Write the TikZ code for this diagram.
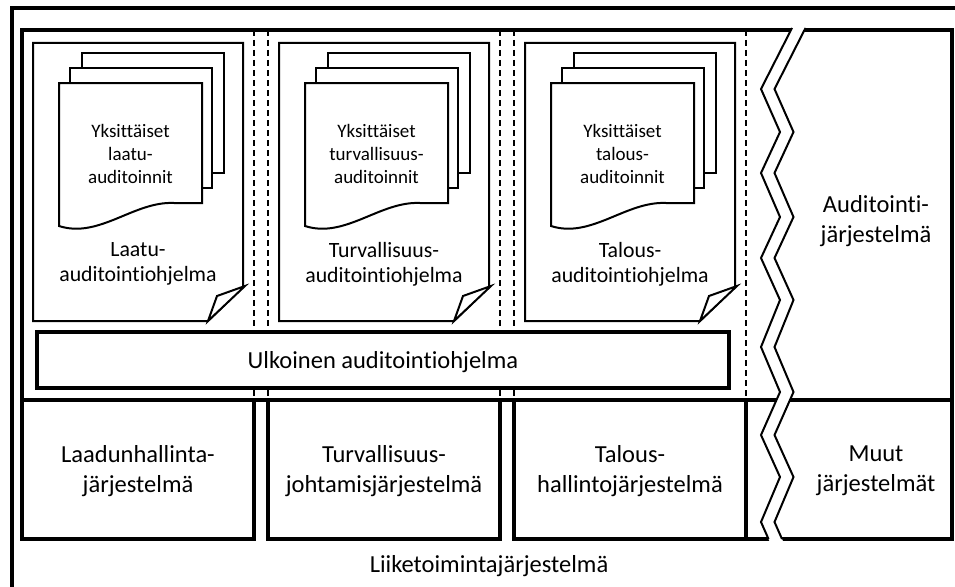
\documentclass[tikz,border=0pt]{standalone}
\usepackage{fontspec}
\setmainfont{Carlito}[Ligatures={NoCommon,NoContextual,NoRare}]

% one column of the auditing system: programme sheet with a curled corner
% and a stack of individual audit sheets in front of it
\newcommand\auditcolumn[4]{%
  \begin{scope}[xshift=#1]
    \draw[paper] (33,43) -- (243,43) -- (243,287) -- (208,321) -- (33,321) -- cycle;
    \draw[paper] (208,321) -- (217,296) -- (245,286) -- cycle;
    \draw[paper] (82,53) rectangle (224,173);
    \draw[paper] (70,68) rectangle (212,188);
    \draw[paper] (59,83) -- (202,83) -- (202,203) -- (174,203)
      .. controls (134,201) and (99,239) .. (59,226) -- cycle;
    \node[small] (#2-audits) at (130.5,154) {#3};
    \node[mid] (#2-programme) at (138,264) {#4};
  \end{scope}}

\begin{document}
\begin{tikzpicture}[x=1pt,y=-1pt,
  heavy/.style={line width=3.4pt},
  paper/.style={line width=2pt, fill=white, line join=miter},
  divider/.style={line width=1.6pt, dash pattern=on 6pt off 4pt},
  zig/.style={line width=2pt, line join=miter},
  small/.style={align=center, inner sep=0pt, font=\fontsize{19}{23}\selectfont},
  mid/.style={align=center, inner sep=0pt, font=\fontsize{21.8}{25}\selectfont},
  big/.style={align=center, inner sep=0pt, font=\fontsize{24.5}{30}\selectfont},
]
\useasboundingbox (0,0) rectangle (955,586);
\clip (0,0) rectangle (955,586);
\fill[white] (0,0) rectangle (955,586);

% business system frame (runs on past the right and bottom edges)
\draw[heavy] (12,600) -- (12,8) -- (970,8);

% auditing system
\draw[heavy] (22,30) rectangle (952,400);

% management systems
\draw[heavy] (22,400) rectangle (254,539);
\draw[heavy] (268,400) rectangle (500,539);
\draw[heavy] (514,400) rectangle (746,539);
\draw[heavy] (746,400) rectangle (952,539);

% column dividers
\foreach \x in {254,268,500,514,746}
  \draw[divider] (\x,30) -- (\x,400);

% audit programmes
\auditcolumn{0pt}{quality}{Yksittäiset\\laatu-\\auditoinnit}{Laatu-\\auditointiohjelma}
\auditcolumn{246pt}{safety}{Yksittäiset\\turvallisuus-\\auditoinnit}{Turvallisuus-\\auditointiohjelma}
\auditcolumn{492pt}{finance}{Yksittäiset\\talous-\\auditoinnit}{Talous-\\auditointiohjelma}

% external audit programme
\draw[heavy, fill=white] (37,332) rectangle (729,388);
\node[big, anchor=base] (external) at (383,368) {Ulkoinen auditointiohjelma};

% break in the frame
\fill[white] (794,23) -- (792,28) -- (761,89) -- (780,132) -- (761,173) -- (780,217)
  -- (761,258) -- (780,300) -- (761,347) -- (780,392) -- (761,435) -- (780,477)
  -- (761,522) -- (768.5,539) -- (770.7,544) -- (784.2,544) -- (782,539)
  -- (774.5,522) -- (793.5,477) -- (774.5,435) -- (793.5,392) -- (774.5,347)
  -- (793.5,300) -- (774.5,258) -- (793.5,217) -- (774.5,173) -- (793.5,132)
  -- (774.5,89) -- (805.5,28) -- (807.5,23) -- cycle;
\draw[zig] (792,28) -- (761,89) -- (780,132) -- (761,173) -- (780,217)
  -- (761,258) -- (780,300) -- (761,347) -- (780,392) -- (761,435) -- (780,477)
  -- (761,522) -- (768.5,539);
\draw[zig] (805.5,28) -- (774.5,89) -- (793.5,132) -- (774.5,173) -- (793.5,217)
  -- (774.5,258) -- (793.5,300) -- (774.5,347) -- (793.5,392) -- (774.5,435)
  -- (793.5,477) -- (774.5,522) -- (782,539);

% labels
\node[big] (auditsys) at (876,221) {Auditointi-\\järjestelmä};
\node[big] (qms) at (138,471) {Laadunhallinta-\\järjestelmä};
\node[big] (sms) at (384,471) {Turvallisuus-\\johtamisjärjestelmä};
\node[big] (fms) at (630,471) {Talous-\\hallintojärjestelmä};
\node[big] (other) at (876,471) {Muut\\järjestelmät};
\node[big, anchor=base] (business) at (489,572) {Liiketoimintajärjestelmä};
\end{tikzpicture}
\end{document}
